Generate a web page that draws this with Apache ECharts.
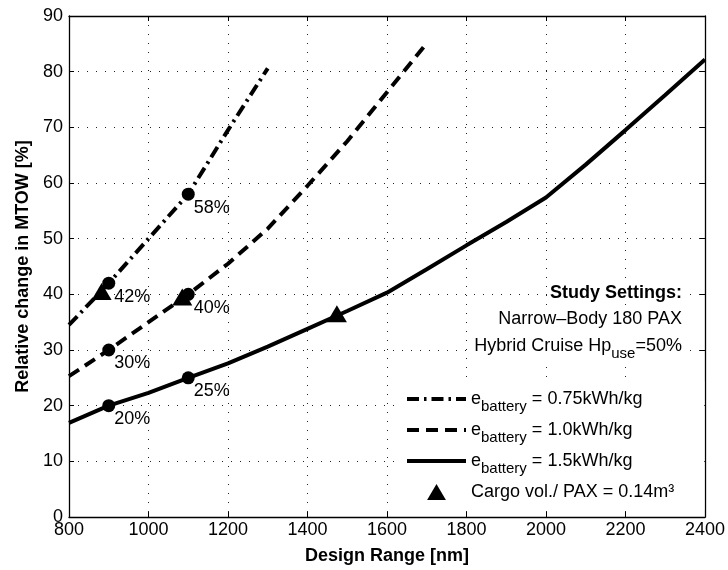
<!DOCTYPE html>
<html>
<head>
<meta charset="utf-8">
<script src="https://cdn.jsdelivr.net/npm/echarts@6/dist/echarts.min.js"></script>
<style>
  html, body { margin: 0; padding: 0; background: #fff; }
  #chart { width: 728px; height: 570px; }
</style>
</head>
<body>
<div id="chart"></div>
<script>
// Design range samples [nm]
const designRange = [800, 900, 1000, 1100, 1200, 1300, 1400, 1500, 1600, 1700,
                     1800, 1900, 2000, 2100, 2200, 2300, 2400];

// Relative change in MTOW [%] per battery specific energy
const mtowBattery075 = [34.5, 42, 50, 58, 69.5, 80.6];                          // 800–1300 nm
const mtowBattery100 = [25.3, 30, 35, 40, 45.5, 51.8, 59.5, 67.5, 76.3, 85.1];  // 800–1700 nm
const mtowBattery150 = [16.9, 20, 22.3, 25, 27.6, 30.6, 33.8, 37, 40.3, 44.5,
                        48.8, 53, 57.4, 63.3, 69.5, 75.8, 82.2];                 // 800–2400 nm

// Highlighted design points (900 nm and 1100 nm)
const markRange = [900, 1100];
const markBattery075 = [42, 58];
const markBattery100 = [30, 40];
const markBattery150 = [20, 25];

// Cargo volume limit points (0.14 m³ per PAX)
const cargoRange = [882, 1085, 1474];
const cargoMtow = [40.5, 39.5, 36.5];

// Axis ticks: [min, max, step]
const xTicks = [800, 2400, 200];
const yTicks = [0, 90, 10];

const FONT = '"Liberation Sans", Arial, Helvetica, sans-serif';

const zip = (xs, ys) => ys.map((y, i) => [xs[i], y]);

const legendLabels = {
  b075: '{e|e}{s|battery}{e| = 0.75kWh/kg}',
  b100: '{e|e}{s|battery}{e| = 1.0kWh/kg}',
  b150: '{e|e}{s|battery}{e| = 1.5kWh/kg}',
  cargo: '{e|Cargo vol./ PAX = 0.14m³}{s|\u200b}'
};

// Line patterns
const dashDot = [12, 5, 2.5, 5];
const dashed = [12, 7];

const lineBase = {
  type: 'line',
  symbol: 'none',
  showSymbol: false,
  smooth: false,
  silent: true,
  z: 3,
  color: '#000'
};

const markSeries = (ys) => ({
  type: 'scatter',
  data: zip(markRange, ys),
  symbol: 'circle',
  symbolSize: 13,
  itemStyle: { color: '#000', opacity: 1 },
  z: 5,
  silent: true,
  label: {
    show: true,
    position: [12, 20],
    align: 'left',
    verticalAlign: 'middle',
    formatter: (p) => p.value[1] + '%',
    color: '#000',
    fontSize: 18,
    fontFamily: FONT
  }
});

const axisCommon = {
  axisLine: { show: true, onZero: false, lineStyle: { color: '#000', width: 1.3 } },
  axisTick: { show: true, inside: true, length: 5, lineStyle: { color: '#000', width: 1 } }
};

const gridDots = { show: true, lineStyle: { color: '#222', width: 1, type: [1, 8] } };

const hiddenIconStyle = { color: 'rgba(0,0,0,0)', borderWidth: 0, opacity: 0 };

const option = {
  animation: false,
  backgroundColor: '#fff',
  grid: { left: 69, right: 23, top: 16, bottom: 53 },
  xAxis: [
    Object.assign({
      type: 'value', position: 'bottom',
      min: xTicks[0], max: xTicks[1], interval: xTicks[2],
      name: 'Design Range [nm]', nameLocation: 'middle', nameGap: 30,
      nameTextStyle: { fontSize: 18, fontWeight: 'bold', color: '#000', fontFamily: FONT },
      axisLabel: { color: '#000', fontSize: 18, fontFamily: FONT, margin: 4, formatter: (v) => String(v) },
      splitLine: gridDots
    }, axisCommon),
    Object.assign({
      type: 'value', position: 'top',
      min: xTicks[0], max: xTicks[1], interval: xTicks[2],
      axisLabel: { show: false }, splitLine: { show: false }
    }, axisCommon)
  ],
  yAxis: [
    Object.assign({
      type: 'value', position: 'left',
      min: yTicks[0], max: yTicks[1], interval: yTicks[2],
      name: 'Relative change in MTOW [%]', nameLocation: 'middle', nameGap: 36,
      nameTextStyle: { fontSize: 18, fontWeight: 'bold', color: '#000', fontFamily: FONT },
      axisLabel: { color: '#000', fontSize: 18, fontFamily: FONT, margin: 6, formatter: (v) => String(v) },
      splitLine: gridDots
    }, axisCommon),
    Object.assign({
      type: 'value', position: 'right',
      min: yTicks[0], max: yTicks[1], interval: yTicks[2],
      axisLabel: { show: false }, splitLine: { show: false }
    }, axisCommon)
  ],
  legend: {
    orient: 'vertical',
    left: 400,
    top: 381,
    padding: [3, 30, 3, 5],
    backgroundColor: '#fff',
    itemWidth: 59,
    itemHeight: 16,
    itemGap: 1,
    selectedMode: false,
    data: [
      { name: 'b075', itemStyle: hiddenIconStyle, lineStyle: { width: 4, type: dashDot } },
      { name: 'b100', itemStyle: hiddenIconStyle, lineStyle: { width: 4, type: dashed } },
      { name: 'b150', itemStyle: hiddenIconStyle, lineStyle: { width: 4, type: 'solid' } },
      { name: 'cargo', icon: 'path://M10 0L20 17L0 17Z', itemStyle: { color: '#000', opacity: 1 } }
    ],
    formatter: (name) => legendLabels[name],
    textStyle: {
      color: '#000',
      fontFamily: FONT,
      rich: {
        e: { fontSize: 18, lineHeight: 30, fontFamily: FONT, color: '#000' },
        s: { fontSize: 15, lineHeight: 12, padding: [15, 0, 0, 0], verticalAlign: 'bottom', fontFamily: FONT, color: '#000' }
      }
    }
  },
  graphic: [
    {
      type: 'text', right: 44, top: 283, z: 10,
      style: {
        text: 'Study Settings:', fill: '#000', font: 'bold 18px ' + FONT,
        backgroundColor: '#fff', padding: [1, 2]
      }
    },
    {
      type: 'text', right: 44, top: 309, z: 10,
      style: {
        text: 'Narrow\u2013Body 180 PAX', fill: '#000', font: '18px ' + FONT,
        backgroundColor: '#fff', padding: [1, 2]
      }
    },
    {
      type: 'text', right: 44, top: 330, z: 10,
      style: {
        text: '{m|Hybrid Cruise Hp}{s|use}{m|=50%}',
        backgroundColor: '#fff', padding: [1, 2],
        rich: {
          m: { fontSize: 18, lineHeight: 30, fontFamily: FONT, fill: '#000' },
          s: { fontSize: 15, lineHeight: 12, padding: [15, 0, 0, 0], verticalAlign: 'bottom', fontFamily: FONT, fill: '#000' }
        }
      }
    }
  ],
  series: [
    Object.assign({}, lineBase, {
      name: 'b075',
      data: zip(designRange, mtowBattery075),
      lineStyle: { color: '#000', width: 4, type: dashDot, cap: 'butt' }
    }),
    Object.assign({}, lineBase, {
      name: 'b100',
      data: zip(designRange, mtowBattery100),
      lineStyle: { color: '#000', width: 4, type: dashed, cap: 'butt' }
    }),
    Object.assign({}, lineBase, {
      name: 'b150',
      data: zip(designRange, mtowBattery150),
      lineStyle: { color: '#000', width: 4, type: 'solid' }
    }),
    {
      name: 'cargo',
      type: 'scatter',
      data: zip(cargoRange, cargoMtow),
      symbol: 'triangle',
      symbolSize: [20, 17],
      itemStyle: { color: '#000', opacity: 1 },
      z: 4,
      silent: true
    },
    markSeries(markBattery075),
    markSeries(markBattery100),
    markSeries(markBattery150)
  ]
};

const chart = echarts.init(document.getElementById('chart'), null, { renderer: 'canvas' });
chart.setOption(option);
</script>
</body>
</html>
